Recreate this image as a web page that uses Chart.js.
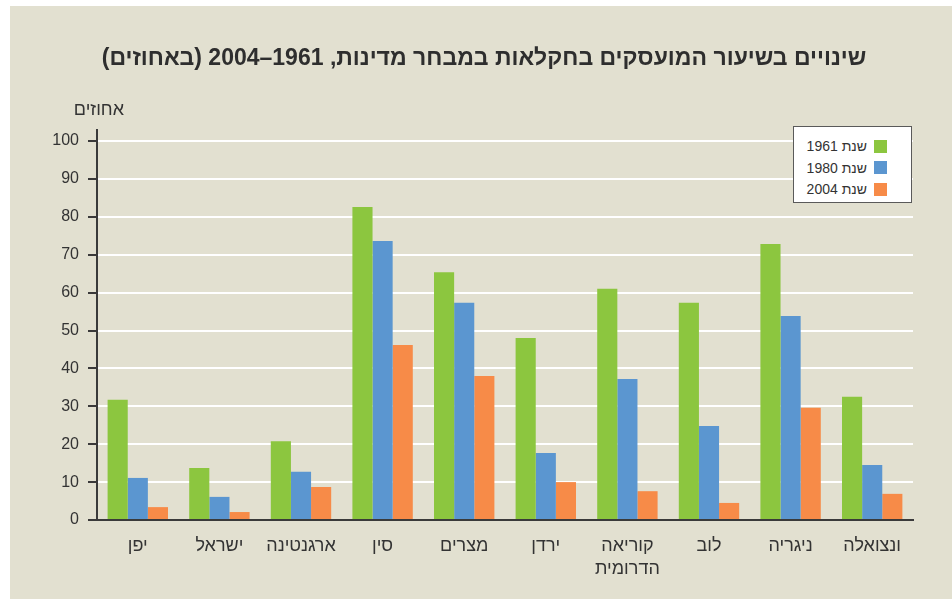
<!DOCTYPE html>
<html>
<head>
<meta charset="utf-8">
<script src="https://cdn.jsdelivr.net/npm/chart.js@4.4.1/dist/chart.umd.min.js"></script>
<style>
  html, body { margin:0; padding:0; background:#ffffff; width:952px; height:599px; overflow:hidden; }
  body { font-family:'Liberation Sans', Arial, sans-serif; }
  #frame { position:absolute; left:10px; top:6px; width:942px; height:593px; background:#e2e0d0; }
  #chart { position:absolute; left:0; top:0; }
  .txt { position:absolute; direction:rtl; color:#2e2e2e; white-space:nowrap; }
  #title { left:100px; width:768px; top:44px; text-align:center; font-size:23px; font-weight:bold; line-height:26px; }
  #unit { right:828px; top:99px; font-size:18px; line-height:20px; color:#333; }
  #legend { position:absolute; left:793px; top:126px; width:117px; height:75px; background:#ffffff; border:1.5px solid #5a5a5a; }
  .lrow { position:absolute; right:24px; height:14px; display:flex; direction:rtl; align-items:center; }
  .lbox { width:13px; height:13px; margin-left:7px; }
  .ltxt { font-size:14px; color:#333; line-height:14px; direction:rtl; }
</style>
</head>
<body>
<div id="frame"><canvas id="chart" width="942" height="593"></canvas></div>
<div id="title" class="txt">שינויים בשיעור המועסקים בחקלאות במבחר מדינות, 1961–2004 (באחוזים)</div>
<div id="unit" class="txt">אחוזים</div>
<div id="legend"></div>
<script>
const categories = ['יפן', 'ישראל', 'ארגנטינה', 'סין', 'מצרים', 'ירדן', ['קוריאה', 'הדרומית'], 'לוב', 'ניגריה', 'ונצואלה'];
const seriesNames = ['שנת 1961', 'שנת 1980', 'שנת 2004'];
const v1961 = [31.7, 13.7, 20.8, 82.6, 65.4, 48.0, 61.0, 57.3, 72.8, 32.5];
const v1980 = [11.1, 6.1, 12.7, 73.6, 57.3, 17.7, 37.2, 24.8, 53.8, 14.5];
const v2004 = [3.4, 2.1, 8.7, 46.2, 38.0, 10.0, 7.6, 4.5, 29.6, 6.9];
const yTicks = [0, 10, 20, 30, 40, 50, 60, 70, 80, 90, 100];
const colors = ['#8cc63f', '#5b96d0', '#f78b48'];

const seriesValues = [v1961, v1980, v2004];
const FONT = "'Liberation Sans', Arial, sans-serif";

const axisExtend = {
  id: 'axisExtend',
  afterDraw(chart) {
    const y = chart.scales.y;
    const ctx = chart.ctx;
    ctx.save();
    ctx.strokeStyle = '#3a3a3a';
    ctx.lineWidth = 2;
    ctx.beginPath();
    ctx.moveTo(y.right, y.top);
    ctx.lineTo(y.right, y.top - 12);
    ctx.stroke();
    ctx.restore();
  }
};

new Chart(document.getElementById('chart'), {
  type: 'bar',
  data: {
    labels: categories,
    datasets: seriesValues.map((vals, i) => ({
      label: seriesNames[i],
      data: vals,
      backgroundColor: colors[i],
      borderWidth: 0,
      categoryPercentage: 0.74,
      barPercentage: 1.0
    }))
  },
  plugins: [axisExtend],
  options: {
    responsive: false,
    animation: false,
    devicePixelRatio: 1,
    layout: { padding: { left: 0, right: 39, top: 135, bottom: 0 } },
    plugins: { legend: { display: false }, title: { display: false }, tooltip: { enabled: false } },
    scales: {
      x: {
        grid: { display: false },
        border: { display: true, color: '#3a3a3a', width: 2 },
        ticks: { color: '#333', font: { family: FONT, size: 18, lineHeight: 1.3 }, padding: 6, maxRotation: 0, autoSkip: false },
        afterFit: s => { s.height = 79; }
      },
      y: {
        min: 0, max: 100,
        afterBuildTicks: s => { s.ticks = yTicks.map(v => ({ value: v })); },
        grid: { color: '#ffffff', lineWidth: 2, tickColor: '#3a3a3a', tickLength: 9, drawTicks: true },
        border: { display: true, color: '#3a3a3a', width: 2 },
        ticks: { color: '#333', font: { family: FONT, size: 16 }, padding: 9 },
        afterFit: s => { s.width = 87; }
      }
    }
  }
});

const legend = document.getElementById('legend');
seriesNames.forEach((name, i) => {
  const row = document.createElement('div');
  row.className = 'lrow';
  row.style.top = (12 + 21.5 * i) + 'px';
  const box = document.createElement('div');
  box.className = 'lbox';
  box.style.background = colors[i];
  const t = document.createElement('span');
  t.className = 'ltxt';
  t.textContent = name;
  row.appendChild(box);
  row.appendChild(t);
  legend.appendChild(row);
});
</script>
</body>
</html>
